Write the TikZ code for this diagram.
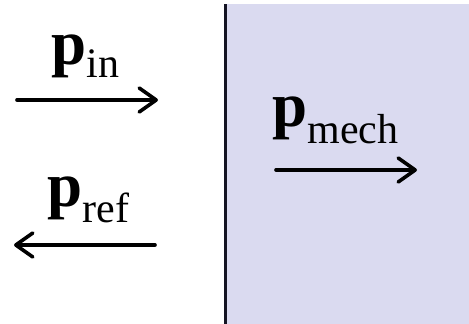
\documentclass[tikz,border=0pt]{standalone}
\usepackage{fontspec}
\setmainfont{Liberation Serif}
\usetikzlibrary{arrows.meta}
\definecolor{panel}{RGB}{218,218,240}
\definecolor{edge}{RGB}{20,20,35}
\begin{document}
\begin{tikzpicture}[x=1pt,y=-1pt,
  flow/.style={line width=3.6pt, line cap=round,
    -{Straight Barb[length=17pt,width=24pt,line width=3.6pt,round]}},
  bigp/.style={inner sep=0pt, anchor=base west, font=\fontsize{63}{63}\selectfont\bfseries},
  sub/.style={inner sep=0pt, anchor=base west, font=\fontsize{42}{42}\selectfont}]
\useasboundingbox (0,0) rectangle (469,324);
\fill[panel] (226,4) rectangle (469,324);
\draw[line width=3pt, edge] (225,4) -- (225,324);
% labels
\node[bigp] (pin) at (51.3,64) {p};
\node[sub, yshift=-13.5pt] (inlab) at (pin.base east) {in};
\node[bigp] (pref) at (47.3,206) {p};
\node[sub, yshift=-16pt] (reflab) at (pref.base east) {ref};
\node[bigp] (pmech) at (272,126) {p};
\node[sub, yshift=-17pt] (mechlab) at (pmech.base east) {mech};
% arrows
\coordinate (a1) at (17,100);
\coordinate (b1) at (158,100);
\coordinate (a2) at (155,245);
\coordinate (b2) at (14,245);
\coordinate (a3) at (276,170);
\coordinate (b3) at (417,170);
\draw[flow] (a1) -- (b1);
\draw[flow] (a2) -- (b2);
\draw[flow] (a3) -- (b3);
\end{tikzpicture}
\end{document}
